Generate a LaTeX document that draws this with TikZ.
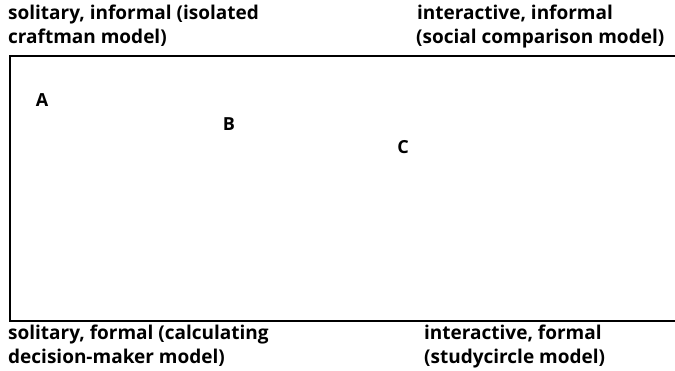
\documentclass[tikz,border=0pt]{standalone}
\usepackage{fontspec}
\setmainfont{Open Sans}
\begin{document}
\begin{tikzpicture}[x=1pt,y=-1pt,
  lbl/.style={anchor=base west,inner sep=0pt,font=\fontsize{19}{23}\selectfont\bfseries},
  letter/.style={inner sep=0pt,font=\fontsize{18}{20}\selectfont\bfseries},
  frame/.style={line width=1.3pt,line cap=rect}]
\useasboundingbox (0,0) rectangle (675,371);
\coordinate (tl) at (10,56);
\coordinate (tr) at (675,56);
\coordinate (bl) at (10,321);
\coordinate (br) at (675,321);
\draw[frame] (tr) -- (tl) -- (bl) -- (br);
\node[lbl] (q1a) at (8,20) {solitary, informal (isolated};
\node[lbl] (q1b) at (8,44) {craftman model)};
\node[lbl] (q2a) at (417,20) {interactive, informal};
\node[lbl] (q2b) at (416,44) {(social comparison model)};
\node[lbl] (q3a) at (8,340) {solitary, formal (calculating};
\node[lbl] (q3b) at (8,363) {decision-maker model)};
\node[lbl] (q4a) at (424,340) {interactive, formal};
\node[lbl] (q4b) at (424,363) {(studycircle model)};
\node[letter] (A) at (42,100) {A};
\node[letter] (B) at (229,124) {B};
\node[letter] (C) at (403,147) {C};
\end{tikzpicture}
\end{document}
